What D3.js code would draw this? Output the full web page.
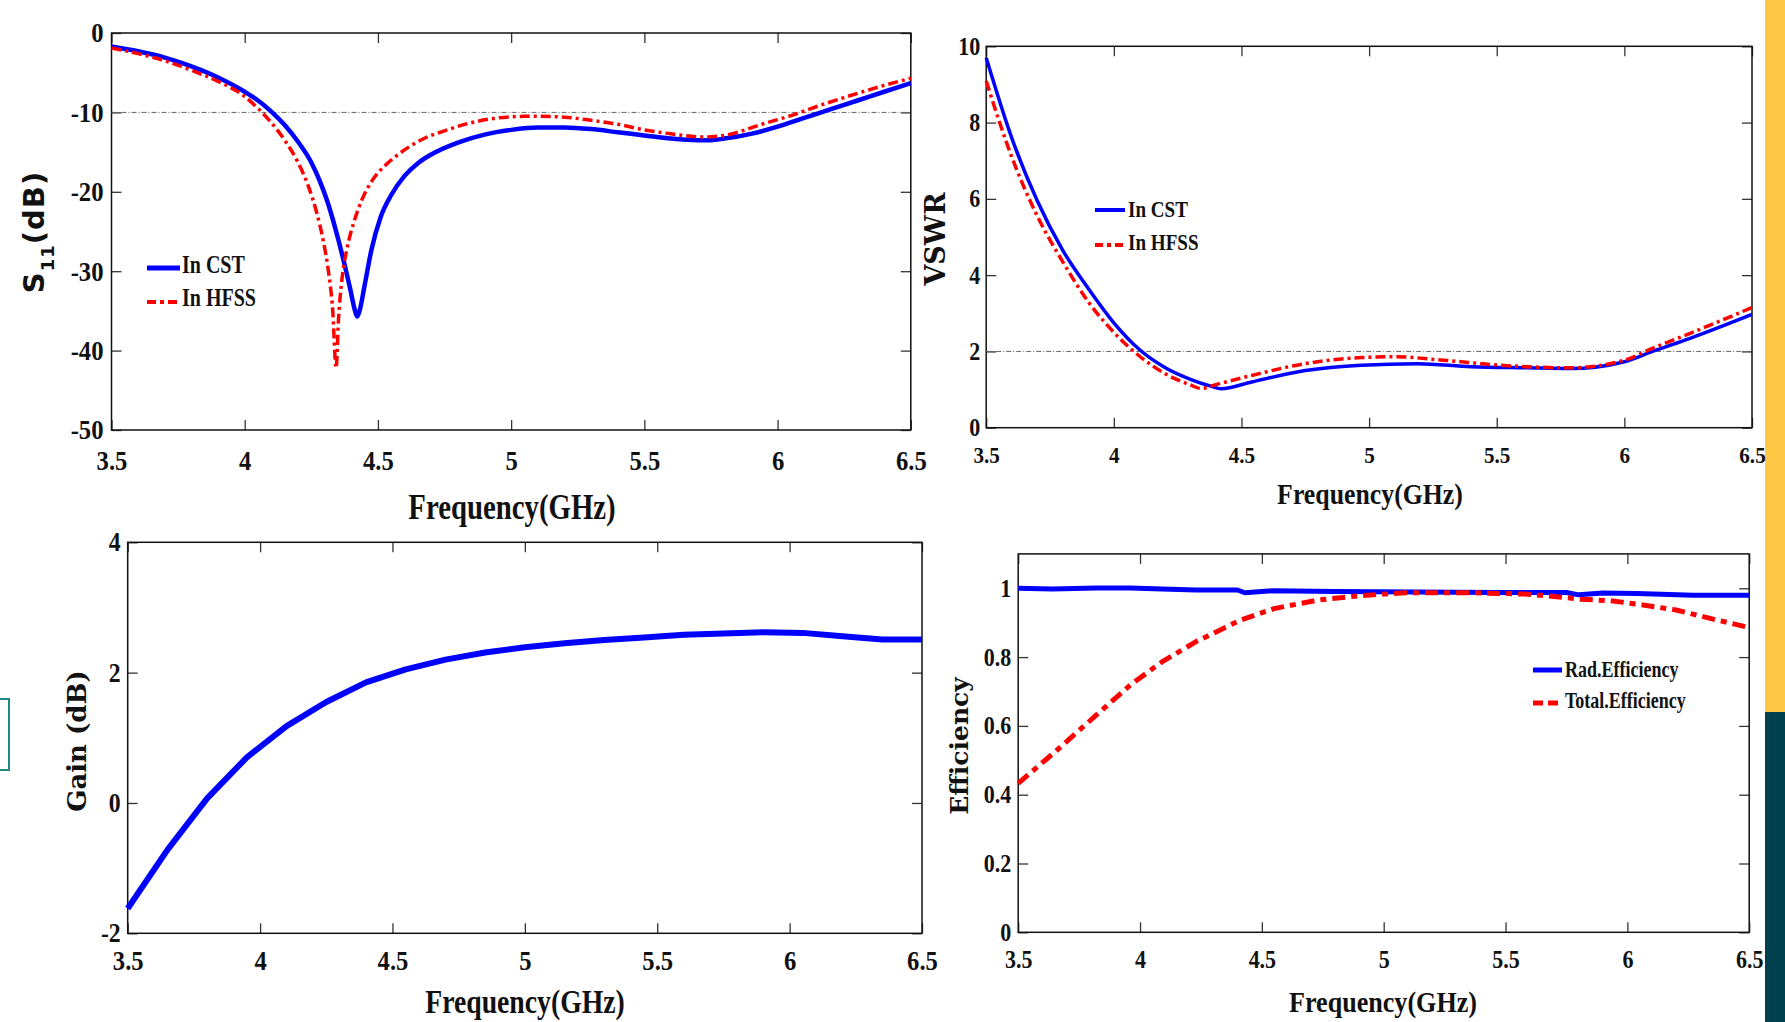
<!DOCTYPE html>
<html>
<head>
<meta charset="utf-8">
<script src="https://cdn.jsdelivr.net/npm/d3@7"></script>
<style>
  body { margin: 0; background: #fff; }
  svg { display: block; }
</style>
</head>
<body>
<script>
'use strict';
(function () {

  // ---- S11 (dB) ----
  const s11FreqCst = [3.5, 3.6, 3.7, 3.8, 3.9, 4.0, 4.05, 4.1, 4.15, 4.2, 4.25, 4.28, 4.31, 4.34, 4.37,
    4.395, 4.415, 4.422, 4.43, 4.45, 4.475, 4.51, 4.55, 4.6, 4.65, 4.7, 4.8, 4.9, 5.0, 5.1, 5.2,
    5.3, 5.4, 5.5, 5.6, 5.7, 5.75, 5.8, 5.9, 6.0, 6.1, 6.2, 6.3, 6.4, 6.5];
  const s11Cst = [-1.7, -2.3, -3.1, -4.2, -5.6, -7.4, -8.5, -9.9, -11.6, -13.7, -16.3, -18.5, -21.2, -24.6, -28.5,
    -32.1, -35.1, -35.7, -35.1, -31.8, -27.4, -23.2, -20.4, -18.0, -16.4, -15.3, -13.8, -12.8, -12.2, -11.9, -11.9,
    -12.1, -12.5, -12.9, -13.3, -13.5, -13.5, -13.3, -12.7, -11.8, -10.7, -9.6, -8.5, -7.4, -6.3];
  const s11FreqHfss = [3.5, 3.6, 3.7, 3.8, 3.9, 4.0, 4.05, 4.1, 4.15, 4.2, 4.24, 4.27, 4.295, 4.315, 4.33,
    4.343, 4.352, 4.365, 4.385, 4.41, 4.44, 4.48, 4.53, 4.58, 4.66, 4.76, 4.85, 4.95, 5.05, 5.11,
    5.2, 5.28, 5.4, 5.5, 5.6, 5.72, 5.8, 5.95, 6.05, 6.17, 6.3, 6.4, 6.5];
  const s11Hfss = [-1.9, -2.6, -3.5, -4.7, -6.1, -8.0, -9.5, -11.3, -13.5, -16.3, -19.4, -22.6, -26.2, -30.2, -34.8,
    -42.2, -36.0, -31.0, -27.0, -23.8, -21.0, -18.5, -16.6, -15.2, -13.5, -12.2, -11.3, -10.7, -10.5, -10.5,
    -10.6, -10.9, -11.5, -12.2, -12.7, -13.1, -12.9, -11.4, -10.4, -9.0, -7.6, -6.6, -5.7];

  // ---- VSWR ----
  const vswrFreqCst = [3.5, 3.6, 3.7, 3.8, 3.9, 4.0, 4.1, 4.2, 4.3, 4.38, 4.42, 4.54, 4.75, 4.97,
    5.19, 5.4, 5.62, 5.79, 6.0, 6.11, 6.26, 6.5];
  const vswrCst = [9.7, 7.6, 5.95, 4.65, 3.65, 2.75, 2.05, 1.58, 1.27, 1.09, 1.02, 1.2, 1.5, 1.64,
    1.68, 1.6, 1.57, 1.55, 1.73, 2.0, 2.35, 2.97];
  const vswrFreqHfss = [3.5, 3.6, 3.7, 3.8, 3.9, 4.0, 4.1, 4.2, 4.3, 4.34, 4.41, 4.54, 4.75,
    4.97, 5.1, 5.29, 5.51, 5.79, 6.0, 6.11, 6.26, 6.5];
  const vswrHfss = [9.09, 7.1, 5.55, 4.35, 3.3, 2.5, 1.88, 1.42, 1.12, 1.03, 1.15, 1.37, 1.68,
    1.84, 1.86, 1.77, 1.64, 1.57, 1.77, 2.08, 2.48, 3.15];

  // ---- Gain (dB) ----
  const gainFreq = [3.5, 3.65, 3.8, 3.95, 4.1, 4.25, 4.4, 4.55, 4.7, 4.85, 5.0, 5.15, 5.3, 5.45,
    5.6, 5.75, 5.9, 6.05, 6.2, 6.35, 6.5];
  const gain = [-1.62, -0.72, 0.07, 0.70, 1.18, 1.55, 1.85, 2.05, 2.20, 2.31, 2.39, 2.45, 2.50, 2.54,
    2.58, 2.60, 2.62, 2.61, 2.56, 2.51, 2.51];

  // ---- Efficiency ----
  const radFreq = [3.5, 3.64, 3.82, 3.96, 4.09, 4.23, 4.4, 4.43, 4.55, 4.8, 5.13, 5.47, 5.75, 5.8,
    5.9, 6.04, 6.27, 6.5];
  const radEff = [1.0, 0.998, 1.001, 1.001, 0.998, 0.995, 0.995, 0.987, 0.993, 0.991, 0.989, 0.988, 0.988, 0.981,
    0.986, 0.985, 0.98, 0.98];
  const totFreq = [3.5, 3.66, 3.82, 3.96, 4.09, 4.23, 4.41, 4.55, 4.73, 4.91, 5.09, 5.36, 5.59, 5.72,
    5.81, 5.93, 6.04, 6.2, 6.36, 6.5];
  const totEff = [0.433, 0.53, 0.631, 0.719, 0.786, 0.845, 0.907, 0.941, 0.966, 0.979, 0.987, 0.987, 0.983, 0.975,
    0.968, 0.964, 0.954, 0.937, 0.909, 0.886];

  // tick labels
  const freqTicks = [3.5, 4, 4.5, 5, 5.5, 6, 6.5];
  const s11Ticks = [0, -10, -20, -30, -40, -50];
  const vswrTicks = [0, 2, 4, 6, 8, 10];
  const gainTicks = [-2, 0, 2, 4];
  const effTicks = [0, 0.2, 0.4, 0.6, 0.8, 1];

  const BLUE = '#0000ff';
  const RED = '#ff0000';
  const SERIF = '"Liberation Serif", "Times New Roman", serif';

  let svg = '';

  window.onload = function () {
    svg = d3.select('body')
      .append('svg')
      .attr('width', 1785)
      .attr('height', 1022);

    drawDecor();
    drawS11();
    drawVswr();
    drawGain();
    drawEfficiency();
  };

  // side bars from the slide
  function drawDecor() {
    svg.append('rect').attr('x', 1765).attr('y', 0).attr('width', 20).attr('height', 712).attr('fill', '#ffc845');
    svg.append('rect').attr('x', 1765).attr('y', 712).attr('width', 20).attr('height', 310).attr('fill', '#003f4d');
    svg.append('rect').attr('x', -20).attr('y', 699).attr('width', 29).attr('height', 71)
      .attr('fill', 'none').attr('stroke', '#23868a').attr('stroke-width', 2);
  }

  // box, inward ticks on all four sides, tick labels
  function makePanel(box, yDomain, yTicks, o) {
    let x = d3.scaleLinear().domain([3.5, 6.5]).range([box.left, box.right]);
    let y = d3.scaleLinear().domain(yDomain).range([box.bottom, box.top]);
    let fmt = (d) => String(d);
    let k = 0.88;

    let gx = svg.append('g')
      .attr('transform', `translate(0,${box.bottom})`)
      .call(d3.axisBottom(x).tickValues(freqTicks).tickSize(-10).tickPadding(o.xPad).tickFormat(fmt));
    let gy = svg.append('g')
      .attr('transform', `translate(${box.left},0)`)
      .call(d3.axisLeft(y).tickValues(yTicks).tickSize(-10).tickPadding(o.yPad).tickFormat(fmt));
    svg.append('g')
      .attr('transform', `translate(0,${box.top})`)
      .call(d3.axisTop(x).tickValues(freqTicks).tickSize(-10).tickFormat(''));
    svg.append('g')
      .attr('transform', `translate(${box.right},0)`)
      .call(d3.axisRight(y).tickValues(yTicks).tickSize(-10).tickFormat(''));

    svg.selectAll('.domain').remove();
    svg.selectAll('.tick line').attr('stroke', '#333').attr('stroke-width', 1.3);

    [gx, gy].forEach((g) => g.attr('font-family', SERIF).attr('font-weight', 'bold'));
    gx.attr('font-size', o.xSize);
    gy.attr('font-size', o.ySize);
    gx.selectAll('text').attr('fill', '#111').attr('transform', `scale(${k},1)`);
    gy.selectAll('text').attr('fill', '#111').attr('x', -o.yPad / k).attr('transform', `scale(${k},1)`);

    svg.append('rect')
      .attr('x', box.left).attr('y', box.top)
      .attr('width', box.right - box.left).attr('height', box.bottom - box.top)
      .attr('fill', 'none').attr('stroke', '#111').attr('stroke-width', 1.5);

    return { x: x, y: y };
  }

  function plotLine(map, freqs, vals, color, width, dash, curve) {
    let line = d3.line()
      .x((d) => map.x(d[0]))
      .y((d) => map.y(d[1]))
      .curve(curve || d3.curveLinear);
    svg.append('path')
      .datum(d3.zip(freqs, vals))
      .attr('fill', 'none')
      .attr('stroke', color)
      .attr('stroke-width', width)
      .attr('stroke-linejoin', 'round')
      .attr('stroke-dasharray', dash || null)
      .attr('d', line);
  }

  function refLine(map, v) {
    svg.append('line')
      .attr('x1', map.x(3.5)).attr('x2', map.x(6.5))
      .attr('y1', map.y(v)).attr('y2', map.y(v))
      .attr('stroke', '#666').attr('stroke-width', 1)
      .attr('stroke-dasharray', '5,2,1,2');
  }

  // condensed serif text
  function label(x, y, txt, size, k, anchor) {
    return svg.append('text')
      .attr('transform', `translate(${x},${y}) scale(${k},1)`)
      .attr('text-anchor', anchor || 'start')
      .style('font-family', SERIF)
      .style('font-weight', 'bold')
      .style('font-size', size + 'px')
      .attr('fill', '#111')
      .text(txt);
  }

  function yTitle(x, y, size, family) {
    return svg.append('text')
      .attr('transform', `translate(${x},${y}) rotate(-90)`)
      .attr('text-anchor', 'middle')
      .style('font-family', family)
      .style('font-weight', 'bold')
      .style('font-size', size + 'px')
      .attr('fill', '#111');
  }

  function legendItem(x1, x2, y, color, width, dash, tx, ty, txt, size, k) {
    svg.append('line')
      .attr('x1', x1).attr('x2', x2).attr('y1', y).attr('y2', y)
      .attr('stroke', color).attr('stroke-width', width)
      .attr('stroke-dasharray', dash || null);
    label(tx, ty, txt, size, k);
  }

  function drawS11() {
    let map = makePanel({ left: 111.5, right: 910.8, top: 33, bottom: 430 }, [-50, 0], s11Ticks,
      { xPad: 20, yPad: 8, xSize: 28, ySize: 28 });
    refLine(map, -10);
    plotLine(map, s11FreqCst, s11Cst, BLUE, 4.5, null, d3.curveMonotoneX);
    plotLine(map, s11FreqHfss, s11Hfss, RED, 3.5, '10,4,3,4', d3.curveMonotoneX);

    legendItem(147, 180, 268, BLUE, 5, null, 182, 273, 'In CST', 25, 0.8);
    legendItem(147, 180, 302, RED, 4, '9,4,4,4', 182, 306, 'In HFSS', 25, 0.8);

    label(512, 519, 'Frequency(GHz)', 36, 0.8, 'middle');
    let t = yTitle(44, 232, 29, '"DejaVu Sans", sans-serif').style('letter-spacing', '1px');
    t.append('tspan').text('S');
    t.append('tspan').attr('dy', 10).style('font-size', '18px').text('11');
    t.append('tspan').attr('dy', -10).text('(dB)');
  }

  function drawVswr() {
    let map = makePanel({ left: 986.2, right: 1752, top: 46.3, bottom: 427.7 }, [0, 10], vswrTicks,
      { xPad: 18, yPad: 6, xSize: 24, ySize: 25 });
    refLine(map, 2);
    plotLine(map, vswrFreqCst, vswrCst, BLUE, 3.5, null, d3.curveMonotoneX);
    plotLine(map, vswrFreqHfss, vswrHfss, RED, 3.5, '10,4,3,4', d3.curveMonotoneX);

    legendItem(1095, 1125, 210, BLUE, 4, null, 1128, 217, 'In CST', 23, 0.83);
    legendItem(1095, 1125, 245, RED, 4, '8,4,4,4', 1128, 250, 'In HFSS', 23, 0.83);

    label(1370, 504, 'Frequency(GHz)', 30, 0.86, 'middle');
    yTitle(945, 239, 27, '"DejaVu Serif", serif').text('VSWR');
  }

  function drawGain() {
    let map = makePanel({ left: 127.7, right: 922, top: 542.3, bottom: 933.3 }, [-2, 4], gainTicks,
      { xPad: 17, yPad: 7, xSize: 28, ySize: 27 });
    plotLine(map, gainFreq, gain, BLUE, 6);

    label(525, 1013, 'Frequency(GHz)', 33, 0.84, 'middle');
    yTitle(86, 741, 26, '"DejaVu Serif", serif').text('Gain (dB)');
  }

  function drawEfficiency() {
    let map = makePanel({ left: 1018.2, right: 1749.2, top: 553.9, bottom: 932.3 }, [0, 1.1], effTicks,
      { xPad: 18, yPad: 7, xSize: 25, ySize: 25 });
    plotLine(map, radFreq, radEff, BLUE, 5);
    plotLine(map, totFreq, totEff, RED, 5, '13,6,6,6');

    legendItem(1533, 1562, 670, BLUE, 5, null, 1565, 677, 'Rad.Efficiency', 24, 0.75);
    legendItem(1533, 1562, 703, RED, 5, '10,5', 1565, 708, 'Total.Efficiency', 24, 0.75);

    label(1383, 1012, 'Frequency(GHz)', 30, 0.87, 'middle');
    yTitle(968, 746, 25, '"DejaVu Serif", serif').text('Efficiency');
  }

})();
</script>
</body>
</html>
